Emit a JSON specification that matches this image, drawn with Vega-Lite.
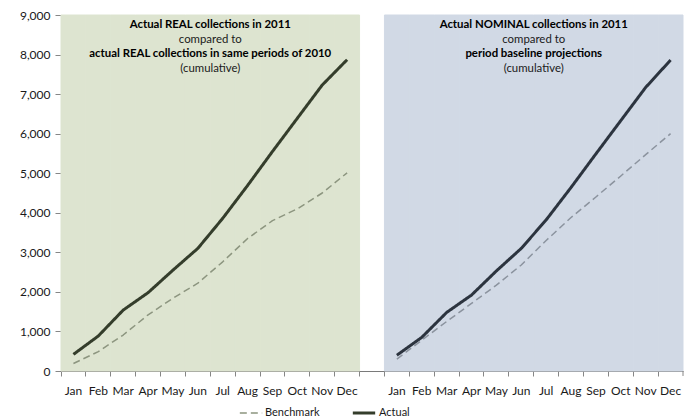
{
  "$schema": "https://vega.github.io/schema/vega-lite/v6.json",
  "width": 622,
  "height": 356,
  "autosize": {"type": "none"},
  "padding": {"left": 61, "top": 15, "right": 14, "bottom": 49},
  "background": "white",
  "config": {
    "view": {"stroke": null},
    "font": "Lato",
    "axis": {"labelFont": "Lato", "labelColor": "#1a1a1a", "labelFontSize": 12, "grid": false, "domainColor": "#868686", "tickColor": "#868686", "title": null, "zindex": 1},
    "legend": {"labelFont": "Lato", "labelFontSize": 11, "labelColor": "#1a1a1a"}
  },
  "datasets": {
    "series": [
      {"cat": "L-Jan", "panel": "L", "series": "Actual", "value": 420},
      {"cat": "L-Feb", "panel": "L", "series": "Actual", "value": 885},
      {"cat": "L-Mar", "panel": "L", "series": "Actual", "value": 1540},
      {"cat": "L-Apr", "panel": "L", "series": "Actual", "value": 1980},
      {"cat": "L-May", "panel": "L", "series": "Actual", "value": 2550},
      {"cat": "L-Jun", "panel": "L", "series": "Actual", "value": 3100},
      {"cat": "L-Jul", "panel": "L", "series": "Actual", "value": 3860},
      {"cat": "L-Aug", "panel": "L", "series": "Actual", "value": 4690},
      {"cat": "L-Sep", "panel": "L", "series": "Actual", "value": 5550},
      {"cat": "L-Oct", "panel": "L", "series": "Actual", "value": 6390},
      {"cat": "L-Nov", "panel": "L", "series": "Actual", "value": 7230},
      {"cat": "L-Dec", "panel": "L", "series": "Actual", "value": 7870},
      {"cat": "L-Jan", "panel": "L", "series": "Benchmark", "value": 190},
      {"cat": "L-Feb", "panel": "L", "series": "Benchmark", "value": 490},
      {"cat": "L-Mar", "panel": "L", "series": "Benchmark", "value": 910},
      {"cat": "L-Apr", "panel": "L", "series": "Benchmark", "value": 1420},
      {"cat": "L-May", "panel": "L", "series": "Benchmark", "value": 1840},
      {"cat": "L-Jun", "panel": "L", "series": "Benchmark", "value": 2220},
      {"cat": "L-Jul", "panel": "L", "series": "Benchmark", "value": 2760},
      {"cat": "L-Aug", "panel": "L", "series": "Benchmark", "value": 3350},
      {"cat": "L-Sep", "panel": "L", "series": "Benchmark", "value": 3800},
      {"cat": "L-Oct", "panel": "L", "series": "Benchmark", "value": 4100},
      {"cat": "L-Nov", "panel": "L", "series": "Benchmark", "value": 4500},
      {"cat": "L-Dec", "panel": "L", "series": "Benchmark", "value": 5010},
      {"cat": "R-Jan", "panel": "R", "series": "Actual", "value": 400},
      {"cat": "R-Feb", "panel": "R", "series": "Actual", "value": 850},
      {"cat": "R-Mar", "panel": "R", "series": "Actual", "value": 1480},
      {"cat": "R-Apr", "panel": "R", "series": "Actual", "value": 1920},
      {"cat": "R-May", "panel": "R", "series": "Actual", "value": 2530},
      {"cat": "R-Jun", "panel": "R", "series": "Actual", "value": 3100},
      {"cat": "R-Jul", "panel": "R", "series": "Actual", "value": 3820},
      {"cat": "R-Aug", "panel": "R", "series": "Actual", "value": 4640},
      {"cat": "R-Sep", "panel": "R", "series": "Actual", "value": 5490},
      {"cat": "R-Oct", "panel": "R", "series": "Actual", "value": 6330},
      {"cat": "R-Nov", "panel": "R", "series": "Actual", "value": 7170},
      {"cat": "R-Dec", "panel": "R", "series": "Actual", "value": 7860},
      {"cat": "R-Jan", "panel": "R", "series": "Benchmark", "value": 300},
      {"cat": "R-Feb", "panel": "R", "series": "Benchmark", "value": 780},
      {"cat": "R-Mar", "panel": "R", "series": "Benchmark", "value": 1250},
      {"cat": "R-Apr", "panel": "R", "series": "Benchmark", "value": 1710},
      {"cat": "R-May", "panel": "R", "series": "Benchmark", "value": 2170},
      {"cat": "R-Jun", "panel": "R", "series": "Benchmark", "value": 2680},
      {"cat": "R-Jul", "panel": "R", "series": "Benchmark", "value": 3300},
      {"cat": "R-Aug", "panel": "R", "series": "Benchmark", "value": 3880},
      {"cat": "R-Sep", "panel": "R", "series": "Benchmark", "value": 4400},
      {"cat": "R-Oct", "panel": "R", "series": "Benchmark", "value": 4930},
      {"cat": "R-Nov", "panel": "R", "series": "Benchmark", "value": 5470},
      {"cat": "R-Dec", "panel": "R", "series": "Benchmark", "value": 6000}
    ],
    "notes": [
      {"cat": "L-Jun", "panel": "L", "text": "Actual REAL collections in 2011", "bold": true, "y": 8747},
      {"cat": "L-Jun", "panel": "L", "text": "compared to", "bold": false, "y": 8380},
      {"cat": "L-Jun", "panel": "L", "text": "actual REAL collections in same periods of 2010", "bold": true, "y": 8013},
      {"cat": "L-Jun", "panel": "L", "text": "(cumulative)", "bold": false, "y": 7647},
      {"cat": "R-Jun", "panel": "R", "text": "Actual NOMINAL collections in 2011", "bold": true, "y": 8747},
      {"cat": "R-Jun", "panel": "R", "text": "compared to", "bold": false, "y": 8380},
      {"cat": "R-Jun", "panel": "R", "text": "period baseline projections", "bold": true, "y": 8013},
      {"cat": "R-Jun", "panel": "R", "text": "(cumulative)", "bold": false, "y": 7647}
    ]
  },
  "encoding": {
    "x": {
      "field": "cat", "type": "ordinal",
      "scale": {"type": "band", "paddingInner": 0, "paddingOuter": 0,
        "domain": ["L-Jan","L-Feb","L-Mar","L-Apr","L-May","L-Jun","L-Jul","L-Aug","L-Sep","L-Oct","L-Nov","L-Dec","gap","R-Jan","R-Feb","R-Mar","R-Apr","R-May","R-Jun","R-Jul","R-Aug","R-Sep","R-Oct","R-Nov","R-Dec"]},
      "axis": {"bandPosition": 0, "labelExpr": "datum.value === 'gap' ? '' : slice(datum.value, 2)", "labelAngle": 0, "tickSize": 5, "labelPadding": 9, "domainColor": "#7a7a7a"}
    }
  },
  "layer": [
    {
      "data": {"name": "series"},
      "transform": [{"filter": "datum.series === 'Actual'"}],
      "mark": {"type": "bar", "strokeWidth": 1},
      "encoding": {
        "y": {"datum": 9000, "type": "quantitative", "scale": {"domain": [0, 9000]},
          "axis": {"values": [0,1000,2000,3000,4000,5000,6000,7000,8000,9000], "labelExpr": "format(datum.value, ',')", "tickSize": 6, "labelPadding": 5}},
        "fill": {"condition": {"test": "datum.panel === 'L'", "value": "#dde4d0"}, "value": "#d1d9e5"},
        "stroke": {"condition": {"test": "datum.panel === 'L'", "value": "#dde4d0"}, "value": "#d1d9e5"}
      }
    },
    {
      "data": {"name": "series"},
      "transform": [{"filter": "datum.series === 'Actual' && datum.cat === 'R-Dec'"}],
      "mark": {"type": "rule", "color": "#868686"},
      "encoding": {
        "x": {"field": "cat", "type": "ordinal", "bandPosition": 1},
        "y": {"datum": 0, "type": "quantitative",
          "axis": {"values": [0,1000,2000,3000,4000,5000,6000,7000,8000,9000], "labelExpr": "format(datum.value, ',')", "tickSize": 6, "labelPadding": 5}},
        "y2": {"datum": -126}
      }
    },
    {
      "data": {"name": "series"},
      "transform": [{"filter": "datum.panel === 'L'"}],
      "mark": {"type": "line", "strokeCap": "butt", "strokeJoin": "round"},
      "encoding": {
        "y": {"field": "value", "type": "quantitative",
          "axis": {"values": [0,1000,2000,3000,4000,5000,6000,7000,8000,9000], "labelExpr": "format(datum.value, ',')", "tickSize": 6, "labelPadding": 5}},
        "color": {"field": "series", "type": "nominal", "scale": {"domain": ["Benchmark", "Actual"], "range": ["#8c957f", "#343d2b"]},
          "legend": {"title": null, "orient": "none", "legendX": 178, "legendY": 385, "direction": "horizontal", "symbolType": "stroke", "symbolSize": 500, "symbolStrokeWidth": 2.5, "columnPadding": 26, "labelOffset": 2}},
        "strokeDash": {"field": "series", "type": "nominal", "scale": {"domain": ["Benchmark", "Actual"], "range": [[7, 4], [1, 0]]}},
        "strokeWidth": {"field": "series", "type": "nominal", "scale": {"domain": ["Benchmark", "Actual"], "range": [1.5, 3]}}
      }
    },
    {
      "data": {"name": "series"},
      "transform": [{"filter": "datum.panel === 'R'"}],
      "mark": {"type": "line", "strokeCap": "butt", "strokeJoin": "round"},
      "encoding": {
        "y": {"field": "value", "type": "quantitative",
          "axis": {"values": [0,1000,2000,3000,4000,5000,6000,7000,8000,9000], "labelExpr": "format(datum.value, ',')", "tickSize": 6, "labelPadding": 5}},
        "detail": {"field": "series"},
        "stroke": {"condition": {"test": "datum.series === 'Actual'", "value": "#2c343f"}, "value": "#8b939e"},
        "strokeDash": {"field": "series", "type": "nominal"},
        "strokeWidth": {"field": "series", "type": "nominal"}
      }
    },
    {
      "data": {"name": "notes"},
      "transform": [{"filter": "datum.bold"}],
      "mark": {"type": "text", "font": "Lato", "fontSize": 11.4, "fontWeight": "bold", "color": "#000000", "baseline": "middle", "align": "center"},
      "encoding": {
        "x": {"field": "cat", "type": "ordinal", "bandPosition": 1},
        "y": {"field": "y", "type": "quantitative",
          "axis": {"values": [0,1000,2000,3000,4000,5000,6000,7000,8000,9000], "labelExpr": "format(datum.value, ',')", "tickSize": 6, "labelPadding": 5}},
        "text": {"field": "text"}
      }
    },
    {
      "data": {"name": "notes"},
      "transform": [{"filter": "!datum.bold"}],
      "mark": {"type": "text", "font": "Lato", "fontSize": 11.4, "color": "#1a1a1a", "baseline": "middle", "align": "center"},
      "encoding": {
        "x": {"field": "cat", "type": "ordinal", "bandPosition": 1},
        "y": {"field": "y", "type": "quantitative",
          "axis": {"values": [0,1000,2000,3000,4000,5000,6000,7000,8000,9000], "labelExpr": "format(datum.value, ',')", "tickSize": 6, "labelPadding": 5}},
        "text": {"field": "text"}
      }
    }
  ]
}
